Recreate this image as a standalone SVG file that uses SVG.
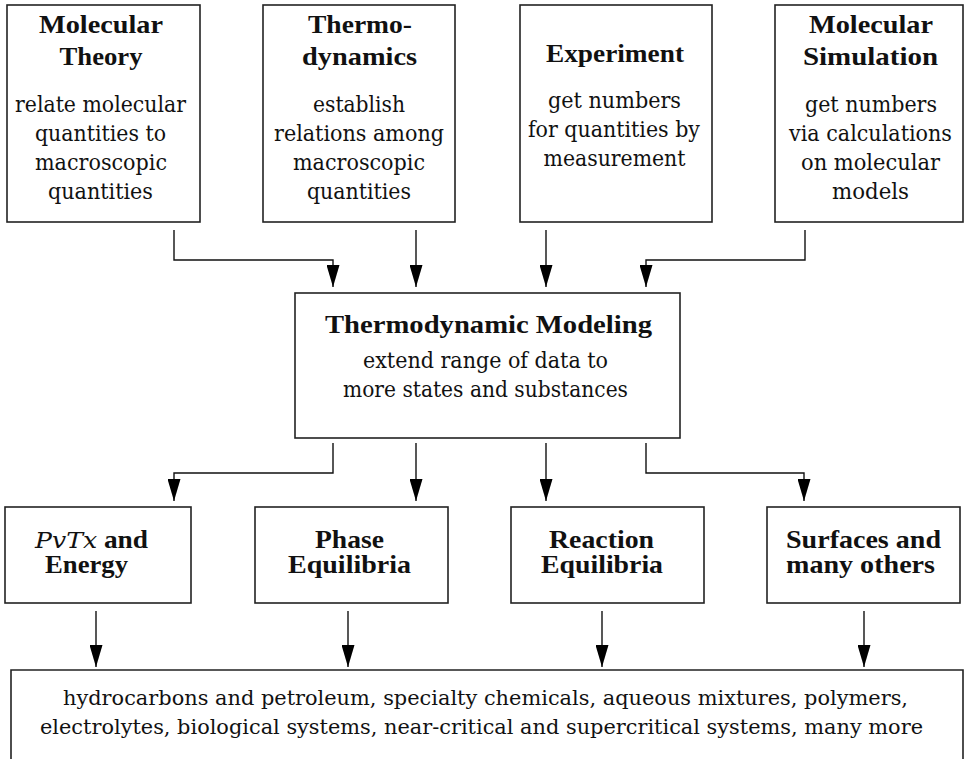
<svg xmlns="http://www.w3.org/2000/svg" width="964" height="759" viewBox="0 0 964 759">
<style>
.box{fill:#fff;stroke:#222;stroke-width:1.6}
.t{font-family:"Liberation Serif","DejaVu Serif",serif;font-weight:bold;font-size:25px;fill:#111;text-anchor:middle}
.b{font-family:"DejaVu Serif","Liberation Serif",serif;font-weight:normal;font-size:22px;fill:#111;text-anchor:middle}
.s{font-size:20px}
.i{font-family:"DejaVu Serif","Liberation Serif",serif;font-style:italic;font-weight:normal;font-size:23px}
.c{fill:none;stroke:#111;stroke-width:1.4}
</style>
<defs>
<marker id="ah" viewBox="0 0 22 13" refX="22" refY="6.5" markerWidth="22" markerHeight="13" markerUnits="userSpaceOnUse" orient="auto">
<path d="M0,0 L22,6.5 L0,13 z" fill="#000"/>
</marker>
</defs>
<rect width="964" height="759" fill="#fff"/>
<g id="connectors" class="c" marker-end="url(#ah)">
<path d="M174,230 V260 H333 V287"/>
<path d="M416,230 V287"/>
<path d="M546,230 V287"/>
<path d="M805,230 V260 H646 V287"/>
<path d="M333,443 V473 H174 V501"/>
<path d="M416,443 V501"/>
<path d="M546,443 V501"/>
<path d="M646,443 V473 H804 V501"/>
<path d="M96,611 V667"/>
<path d="M348,611 V667"/>
<path d="M602,611 V667"/>
<path d="M864,611 V667"/>
</g>
<g id="molecular-theory">
<rect class="box" x="7" y="5" width="193" height="217"/>
<text class="t" x="101" y="33" textLength="124" lengthAdjust="spacingAndGlyphs">Molecular</text>
<text class="t" x="101" y="65" textLength="83" lengthAdjust="spacingAndGlyphs">Theory</text>
<text class="b" x="100.5" y="112" textLength="171" lengthAdjust="spacingAndGlyphs">relate molecular</text>
<text class="b" x="100.5" y="141" textLength="131" lengthAdjust="spacingAndGlyphs">quantities to</text>
<text class="b" x="101" y="170" textLength="132" lengthAdjust="spacingAndGlyphs">macroscopic</text>
<text class="b" x="100.5" y="199" textLength="105" lengthAdjust="spacingAndGlyphs">quantities</text>
</g>
<g id="thermodynamics">
<rect class="box" x="263" y="5" width="192" height="217"/>
<text class="t" x="360" y="33" textLength="104" lengthAdjust="spacingAndGlyphs">Thermo-</text>
<text class="t" x="359.5" y="65" textLength="115" lengthAdjust="spacingAndGlyphs">dynamics</text>
<text class="b" x="359" y="112" textLength="92" lengthAdjust="spacingAndGlyphs">establish</text>
<text class="b" x="359" y="141" textLength="170" lengthAdjust="spacingAndGlyphs">relations among</text>
<text class="b" x="359" y="170" textLength="132" lengthAdjust="spacingAndGlyphs">macroscopic</text>
<text class="b" x="359" y="199" textLength="104" lengthAdjust="spacingAndGlyphs">quantities</text>
</g>
<g id="experiment">
<rect class="box" x="520" y="5" width="192" height="217"/>
<text class="t" x="615" y="62" textLength="138" lengthAdjust="spacingAndGlyphs">Experiment</text>
<text class="b" x="614.5" y="108" textLength="133" lengthAdjust="spacingAndGlyphs">get numbers</text>
<text class="b" x="614" y="137" textLength="172" lengthAdjust="spacingAndGlyphs">for quantities by</text>
<text class="b" x="614.5" y="166" textLength="142" lengthAdjust="spacingAndGlyphs">measurement</text>
</g>
<g id="molecular-simulation">
<rect class="box" x="775" y="5" width="188" height="217"/>
<text class="t" x="871" y="33" textLength="124" lengthAdjust="spacingAndGlyphs">Molecular</text>
<text class="t" x="870.5" y="65" textLength="135" lengthAdjust="spacingAndGlyphs">Simulation</text>
<text class="b" x="871" y="112" textLength="132" lengthAdjust="spacingAndGlyphs">get numbers</text>
<text class="b" x="870.5" y="141" textLength="163" lengthAdjust="spacingAndGlyphs">via calculations</text>
<text class="b" x="870.5" y="170" textLength="139" lengthAdjust="spacingAndGlyphs">on molecular</text>
<text class="b" x="870.5" y="199" textLength="77" lengthAdjust="spacingAndGlyphs">models</text>
</g>
<g id="thermodynamic-modeling">
<rect class="box" x="295" y="293" width="385" height="145"/>
<text class="t" x="488.5" y="333" textLength="327" lengthAdjust="spacingAndGlyphs">Thermodynamic Modeling</text>
<text class="b" x="485.5" y="368" textLength="245" lengthAdjust="spacingAndGlyphs">extend range of data to</text>
<text class="b" x="485.5" y="397" textLength="285" lengthAdjust="spacingAndGlyphs">more states and substances</text>
</g>
<g id="pvtx-energy">
<rect class="box" x="5" y="507" width="186" height="96"/>
<text class="t" x="91.5" y="548" textLength="113" lengthAdjust="spacingAndGlyphs"><tspan class="i">PvTx</tspan> and</text>
<text class="t" x="86.5" y="573" textLength="83" lengthAdjust="spacingAndGlyphs">Energy</text>
</g>
<g id="phase-equilibria">
<rect class="box" x="255" y="507" width="193" height="96"/>
<text class="t" x="349.5" y="548" textLength="69" lengthAdjust="spacingAndGlyphs">Phase</text>
<text class="t" x="349.5" y="573" textLength="123" lengthAdjust="spacingAndGlyphs">Equilibria</text>
</g>
<g id="reaction-equilibria">
<rect class="box" x="511" y="507" width="193" height="96"/>
<text class="t" x="601.5" y="548" textLength="105" lengthAdjust="spacingAndGlyphs">Reaction</text>
<text class="t" x="602" y="573" textLength="122" lengthAdjust="spacingAndGlyphs">Equilibria</text>
</g>
<g id="surfaces-others">
<rect class="box" x="767" y="507" width="193" height="96"/>
<text class="t" x="863.5" y="548" textLength="155" lengthAdjust="spacingAndGlyphs">Surfaces and</text>
<text class="t" x="860.5" y="573" textLength="149" lengthAdjust="spacingAndGlyphs">many others</text>
</g>
<g id="applications">
<path class="box" d="M11,759 V670 H963 V759"/>
<text class="b s" x="485.5" y="705" textLength="845" lengthAdjust="spacingAndGlyphs">hydrocarbons and petroleum, specialty chemicals, aqueous mixtures, polymers,</text>
<text class="b s" x="481.5" y="734" textLength="883" lengthAdjust="spacingAndGlyphs">electrolytes, biological systems, near-critical and supercritical systems, many more</text>
</g>
</svg>
